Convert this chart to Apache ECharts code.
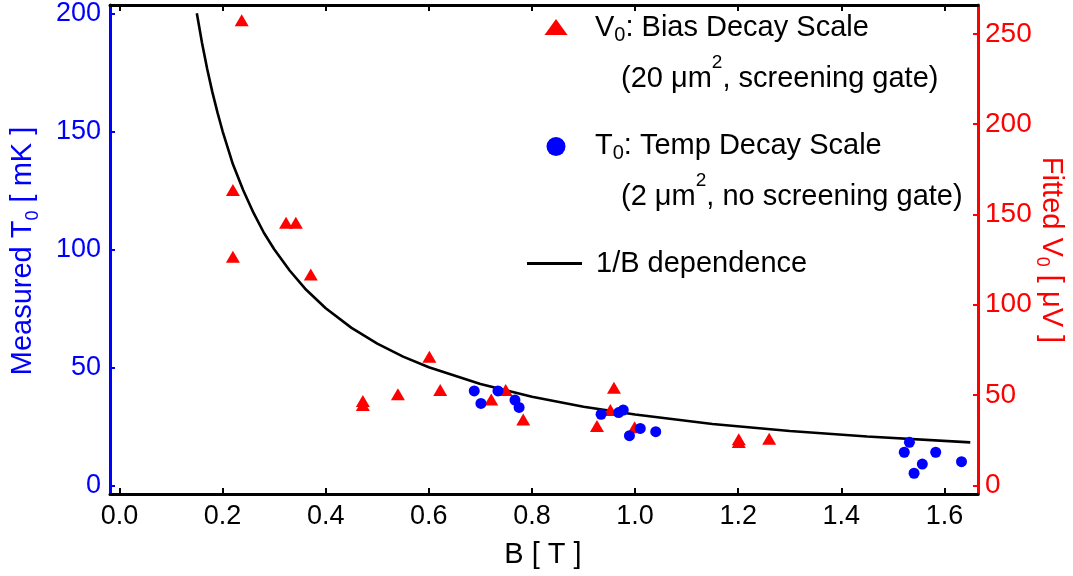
<!DOCTYPE html>
<html>
<head>
<meta charset="utf-8">
<script src="https://cdn.jsdelivr.net/npm/echarts@6/dist/echarts.min.js"></script>
<style>html,body{margin:0;padding:0;background:#fff}#c{width:1073px;height:576px}</style>
</head>
<body>
<div id="c"></div>
<script>
// ---- data ----
var xTicks = [0.0, 0.2, 0.4, 0.6, 0.8, 1.0, 1.2, 1.4, 1.6];
var leftTicks = [0, 50, 100, 150, 200];
var rightTicks = [0, 50, 100, 150, 200, 250];

// V0: Bias decay scale (right axis, µV)
var v0B = [0.237, 0.220, 0.220, 0.323, 0.342, 0.371, 0.472, 0.472, 0.540, 0.601, 0.622, 0.721, 0.749, 0.783, 0.926, 0.952, 0.959, 0.999, 1.201, 1.201, 1.260];
var v0V = [257.6, 163.5, 126.6, 145.4, 145.4, 116.8, 46.7, 44.5, 50.4, 71.2, 52.8, 47.6, 52.8, 36.5, 32.8, 41.7, 54.0, 32.1, 25.5, 24.0, 25.8];

// T0: Temp decay scale (left axis, mK)
var t0B = [0.688, 0.701, 0.734, 0.767, 0.775, 0.934, 0.968, 0.977, 0.989, 1.010, 1.040, 1.532, 1.522, 1.583, 1.557, 1.541, 1.633];
var t0T = [40.0, 34.7, 40.0, 36.1, 33.0, 30.1, 30.8, 31.9, 21.0, 24.1, 22.7, 18.2, 14.0, 14.0, 9.0, 5.1, 10.0];

// 1/B dependence curve (left axis, mK)
var curveB = [0.15, 0.16, 0.17, 0.18, 0.19, 0.20, 0.22, 0.24, 0.26, 0.28, 0.30, 0.33, 0.36, 0.40, 0.45, 0.50, 0.55, 0.60, 0.70, 0.80, 0.90, 1.00, 1.15, 1.30, 1.45, 1.65];
var curveT = [200, 187.5, 176.5, 166.7, 158, 150, 136, 125, 115.4, 107, 100, 91, 83.3, 75, 66.7, 60, 54.5, 50, 42.9, 37.5, 33.3, 30, 26, 23, 20.7, 18.2];

function zip(a, b) { return a.map(function (v, i) { return [v, b[i]]; }); }

var FF = 'Liberation Sans, Arial, Helvetica, sans-serif';
var BLUE = '#0000ff', RED = '#ff0000', BLACK = '#000000';
var FS = 29;

var chart = echarts.init(document.getElementById('c'), null, {renderer: 'canvas'});

function xAxisCfg(pos, showLabel) {
  return {
    type: 'value', position: pos, min: -0.0184, max: 1.665,
    axisLine: {show: true, onZero: false, lineStyle: {color: BLACK, width: 3}},
    axisTick: {show: true, inside: true, length: 6, lineStyle: {color: BLACK, width: 2}, customValues: xTicks},
    axisLabel: {show: showLabel, customValues: xTicks, color: BLACK, fontSize: 27, fontFamily: FF, margin: 9,
      formatter: function (v) { return v.toFixed(1); }},
    splitLine: {show: false}
  };
}

function richText(x, y, text, mainLH, smallKey, smallLH, smallAlign, smallSize, color, rotation) {
  var rich = {
    a: {fontSize: FS, fontFamily: FF, lineHeight: mainLH, verticalAlign: 'middle', fill: color}
  };
  rich[smallKey] = {fontSize: smallSize, fontFamily: FF, lineHeight: smallLH, verticalAlign: smallAlign, fill: color};
  return {
    type: 'text', x: x, y: y, rotation: rotation || 0,
    style: {
      text: text, fill: color, fontSize: FS, fontFamily: FF,
      align: rotation ? 'center' : 'left', verticalAlign: 'middle',
      textAlign: rotation ? 'center' : 'left', textVerticalAlign: 'middle',
      rich: rich
    }
  };
}

var option = {
  animation: false,
  backgroundColor: '#ffffff',
  grid: {left: 110, right: 95, top: 5, bottom: 82, containLabel: false, outerBoundsMode: 'none'},
  xAxis: [xAxisCfg('bottom', true), xAxisCfg('top', false)],
  yAxis: [
    {
      type: 'value', position: 'left', min: -3.69, max: 203.5,
      axisLine: {show: true, onZero: false, lineStyle: {color: BLUE, width: 3}},
      axisTick: {show: true, inside: true, length: 5, lineStyle: {color: BLUE, width: 2}, customValues: leftTicks},
      axisLabel: {customValues: leftTicks, color: BLUE, fontSize: 27, fontFamily: FF, margin: 9},
      splitLine: {show: false}
    },
    {
      type: 'value', position: 'right', min: -4.8, max: 266.0,
      axisLine: {show: true, onZero: false, lineStyle: {color: RED, width: 3}},
      axisTick: {show: true, inside: true, length: 5, lineStyle: {color: RED, width: 2}, customValues: rightTicks},
      axisLabel: {customValues: rightTicks, color: RED, fontSize: 28, fontFamily: FF, margin: 7},
      splitLine: {show: false}
    }
  ],
  series: [
    {
      name: '1/B dependence', type: 'line', xAxisIndex: 0, yAxisIndex: 0,
      data: zip(curveB, curveT), showSymbol: false, symbol: 'none',
      smooth: false,
      lineStyle: {color: BLACK, width: 2.6}, z: 2
    },
    {
      name: 'V0', type: 'scatter', xAxisIndex: 0, yAxisIndex: 1,
      data: zip(v0B, v0V), symbol: 'triangle', symbolSize: [14, 12],
      itemStyle: {color: RED, opacity: 1}, z: 3
    },
    {
      name: 'T0', type: 'scatter', xAxisIndex: 0, yAxisIndex: 0,
      data: zip(t0B, t0T), symbol: 'circle', symbolSize: 11,
      itemStyle: {color: BLUE, opacity: 1}, z: 4
    }
  ],
  graphic: [
    // axis titles
    richText(23, 251, '{a|Measured T}{s|0}{a| [ mK ]}', 38, 's', 18, 'bottom', 18, BLUE, Math.PI / 2),
    richText(1051, 250, '{a|Fitted V}{s|0}{a| [ \u03bcV ]}', 36, 's', 18, 'bottom', 18, RED, -Math.PI / 2),
    {
      type: 'text', x: 543, y: 555,
      style: {
        text: 'B [ T ]', fill: BLACK, fontSize: FS, fontFamily: FF,
        align: 'center', verticalAlign: 'middle', textAlign: 'center', textVerticalAlign: 'middle'
      }
    },
    // legend symbols
    {
      type: 'polygon', shape: {points: [[556, 19], [567.5, 35], [544.5, 35]]},
      style: {fill: RED}
    },
    {
      type: 'circle', shape: {cx: 556, cy: 146.5, r: 9.5},
      style: {fill: BLUE}
    },
    {
      type: 'line', shape: {x1: 527, y1: 263.5, x2: 582, y2: 263.5},
      style: {stroke: BLACK, lineWidth: 3}
    },
    // legend texts
    richText(595, 28, '{a|V}{s|0}{a|: Bias Decay Scale}', 35, 's', 20, 'bottom', 20, BLACK),
    richText(621, 79, '{a|(20 \u03bcm}{p|2}{a|, screening gate)}', 52, 'p', 18, 'top', 19, BLACK),
    richText(595, 146, '{a|T}{s|0}{a|: Temp Decay Scale}', 35, 's', 20, 'bottom', 20, BLACK),
    richText(621, 197, '{a|(2 \u03bcm}{p|2}{a|, no screening gate)}', 52, 'p', 18, 'top', 19, BLACK),
    {
      type: 'text', x: 596, y: 264,
      style: {
        text: '1/B dependence', fill: BLACK, fontSize: FS, fontFamily: FF,
        align: 'left', verticalAlign: 'middle', textAlign: 'left', textVerticalAlign: 'middle'
      }
    }
  ]
};
chart.setOption(option);
</script>
</body>
</html>
